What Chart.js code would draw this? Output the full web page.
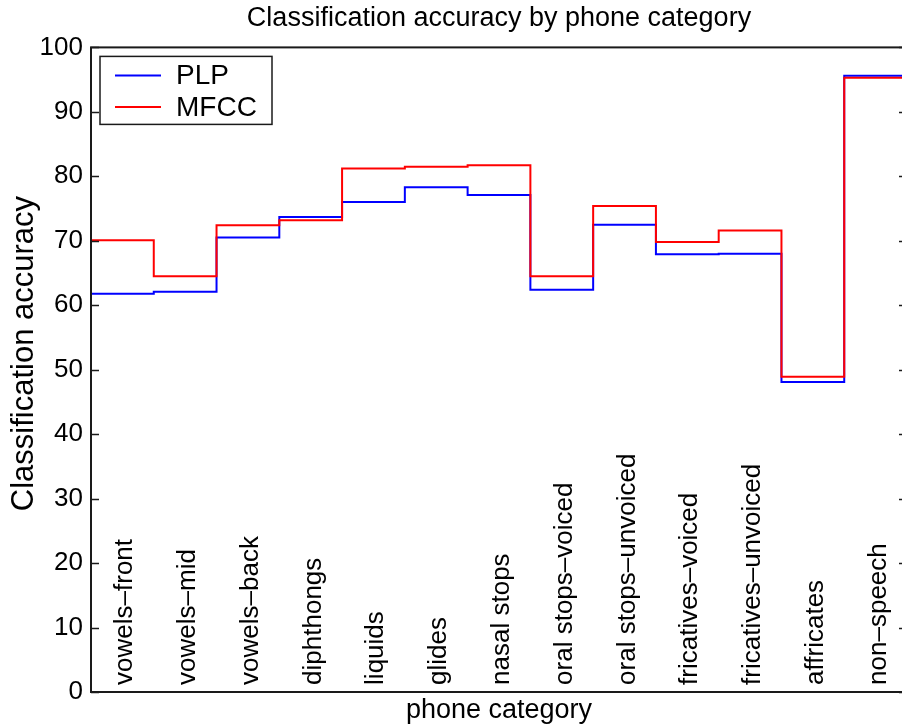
<!DOCTYPE html>
<html>
<head>
<meta charset="utf-8">
<script src="https://cdn.jsdelivr.net/npm/chart.js@4"></script>
<style>
  html, body { margin: 0; padding: 0; background: #fff; overflow: hidden; }
  #wrap { width: 902px; height: 728px; overflow: hidden; position: relative; }
  canvas { display: block; }
</style>
</head>
<body>
<div id="wrap"><canvas id="c" width="912" height="728"></canvas></div>
<script>
// Phone categories, one stair step each
const categories = [
  'vowels–front', 'vowels–mid', 'vowels–back', 'diphthongs', 'liquids',
  'glides', 'nasal stops', 'oral stops–voiced', 'oral stops–unvoiced',
  'fricatives–voiced', 'fricatives–unvoiced', 'affricates', 'non–speech'
];
// Classification accuracy (%) per category
const plp  = [61.8, 62.1, 70.5, 73.7, 76.0, 78.3, 77.1, 62.4, 72.5, 67.9, 68.0, 48.1, 95.6];
const mfcc = [70.1, 64.5, 72.4, 73.2, 81.2, 81.5, 81.7, 64.5, 75.4, 69.8, 71.6, 48.9, 95.3];
const yTicks = [0, 10, 20, 30, 40, 50, 60, 70, 80, 90, 100];
const yLabel = 'Classification accuracy';

const FONT = "'Liberation Sans', Arial, Helvetica, sans-serif";

// stairs: each value holds from x=i+1 to x=i+2; the last value is repeated to close the final step
function stairs(values) {
  const pts = values.map((v, i) => ({ x: i + 1, y: v }));
  pts.push({ x: values.length + 1, y: values[values.length - 1] });
  return pts;
}

// Box frame, inward y ticks on both sides, category captions, y label and legend
const decor = {
  id: 'decor',
  afterDatasetsDraw(chart) {
    const { ctx, chartArea: a, scales: { x, y } } = chart;
    ctx.save();
    // rotated category captions inside the plot
    ctx.fillStyle = '#000';
    ctx.font = '26px ' + FONT;
    ctx.textAlign = 'left';
    ctx.textBaseline = 'alphabetic';
    categories.forEach((c, i) => {
      const px = x.getPixelForValue(i + 1.5);
      const py = y.getPixelForValue(1.1);
      ctx.save();
      ctx.translate(px + 10, py);
      ctx.rotate(-Math.PI / 2);
      ctx.fillText(c, 0, 0);
      ctx.restore();
    });

    // y axis label
    ctx.save();
    ctx.font = '31px ' + FONT;
    ctx.textAlign = 'center';
    ctx.textBaseline = 'middle';
    ctx.translate(24, y.getPixelForValue(52.5));
    ctx.rotate(-Math.PI / 2);
    ctx.fillText(yLabel, 0, 0);
    ctx.restore();

    // frame
    ctx.strokeStyle = '#1a1a1a';
    ctx.lineWidth = 2;
    ctx.strokeRect(a.left, a.top, a.right - a.left, a.bottom - a.top);
    // ticks pointing inward
    ctx.lineWidth = 1.5;
    yTicks.forEach(t => {
      const py = Math.round(y.getPixelForValue(t)) + 0.5;
      ctx.beginPath();
      ctx.moveTo(a.left, py); ctx.lineTo(a.left + 8, py);
      ctx.moveTo(a.right, py); ctx.lineTo(a.right - 8, py);
      ctx.stroke();
    });

    // legend box
    const lx = a.left + 9, ly = a.top + 9, lw = 172, lh = 68;
    ctx.fillStyle = '#fff';
    ctx.fillRect(lx, ly, lw, lh);
    ctx.strokeStyle = '#1a1a1a';
    ctx.lineWidth = 1.5;
    ctx.strokeRect(lx, ly, lw, lh);
    const rows = [ly + 19, ly + 50.5];
    const sets = chart.data.datasets;
    ctx.font = '28px ' + FONT;
    ctx.textBaseline = 'middle';
    ctx.textAlign = 'left';
    sets.forEach((ds, r) => {
      ctx.strokeStyle = ds.borderColor;
      ctx.lineWidth = 2;
      ctx.beginPath();
      ctx.moveTo(lx + 15, rows[r]); ctx.lineTo(lx + 61, rows[r]);
      ctx.stroke();
      ctx.fillStyle = '#000';
      ctx.fillText(ds.label, lx + 76, rows[r] + 1);
    });
    ctx.restore();
  }
};

new Chart(document.getElementById('c'), {
  type: 'line',
  data: {
    datasets: [
      { label: 'PLP', data: stairs(plp), borderColor: '#0000ff', borderWidth: 2, order: 1 },
      { label: 'MFCC', data: stairs(mfcc), borderColor: '#ff0000', borderWidth: 2, order: 0 }
    ]
  },
  options: {
    responsive: false,
    animation: false,
    devicePixelRatio: 1,
    layout: { padding: { left: 0, right: 5, top: 0, bottom: 0 } },
    elements: {
      line: { stepped: true, tension: 0, fill: false },
      point: { radius: 0, hoverRadius: 0 }
    },
    plugins: {
      legend: { display: false },
      tooltip: { enabled: false },
      title: {
        display: true,
        fullSize: false,
        text: 'Classification accuracy by phone category',
        color: '#000',
        font: { family: FONT, size: 27, weight: 'normal' },
        padding: { top: 2, bottom: 13 }
      }
    },
    scales: {
      x: {
        type: 'linear',
        min: 1,
        max: 14,
        grid: { display: false, drawTicks: false },
        border: { display: false },
        ticks: { display: false },
        title: {
          display: true,
          text: 'phone category',
          color: '#000',
          font: { family: FONT, size: 27 },
          padding: { top: 0, bottom: 1 }
        },
        afterFit(s) { s.height = 36; }
      },
      y: {
        min: 0,
        max: 100,
        afterBuildTicks(s) { s.ticks = yTicks.map(v => ({ value: v })); },
        grid: { display: false, drawTicks: false },
        border: { display: false },
        ticks: {
          color: '#000',
          padding: 8,
          font: { family: FONT, size: 26 }
        },
        afterFit(s) { s.width = 91; }
      }
    }
  },
  plugins: [decor]
});
</script>
</body>
</html>
